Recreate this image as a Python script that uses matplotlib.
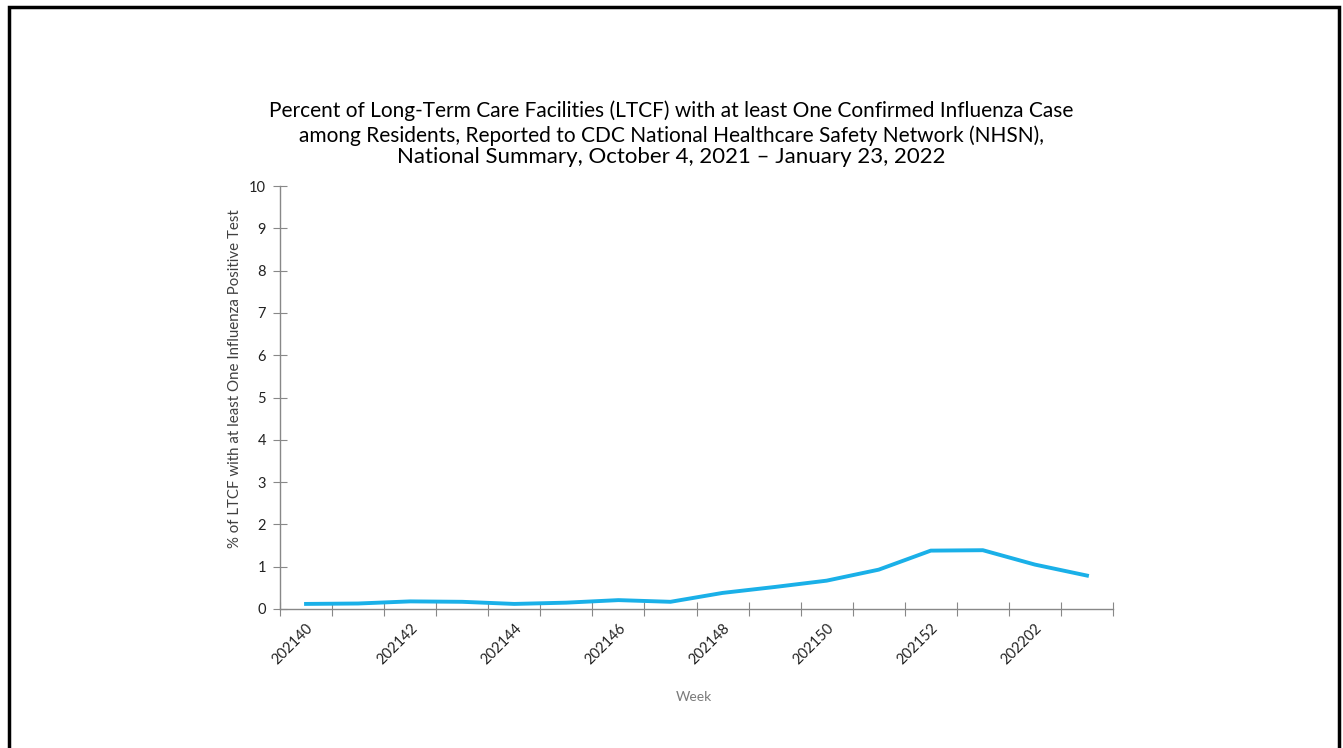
import matplotlib
matplotlib.use("Agg")
import matplotlib.pyplot as plt
from matplotlib.patches import Rectangle
from matplotlib.transforms import Bbox
import numpy as np

plt.rcParams['font.family'] = ['Lato', 'DejaVu Sans']

# weeks (YYYYWW) and percent of LTCF with >=1 positive influenza test
weeks = ['202140', '202141', '202142', '202143', '202144', '202145', '202146', '202147',
         '202148', '202149', '202150', '202151', '202152', '202201', '202202', '202203']
pct = [0.12, 0.13, 0.18, 0.17, 0.12, 0.15, 0.21, 0.17,
       0.38, 0.52, 0.67, 0.93, 1.38, 1.39, 1.05, 0.79]
shown_labels = ['202140', '202142', '202144', '202146', '202148', '202150', '202152', '202202']

title_lines = ["Percent of Long-Term Care Facilities (LTCF) with at least One Confirmed Influenza Case",
               "among Residents, Reported to CDC National Healthcare Safety Network (NHSN),",
               "National Summary, October 4, 2021 \u2013 January 23, 2022"]

W, H = 1343, 748
fig = plt.figure(figsize=(W / 100, H / 100), dpi=100)
ax = fig.add_axes([280 / W, 1 - 609 / H, (1113 - 280) / W, (609 - 186) / H])

x = np.arange(len(weeks))
ax.plot(x, pct, color='#1AB0E8', lw=2.8, solid_joinstyle='round')

ax.set_xlim(-0.5, len(weeks) - 0.5)
ax.set_ylim(0, 10)
ax.set_yticks(range(0, 11))

# category ticks sit between the points, labels on every other week
ax.set_xticks(np.arange(-0.5, len(weeks)))
ax.set_xticklabels([])
lab_pos = [weeks.index(w) for w in shown_labels]
ax.set_xticks(lab_pos, minor=True)
ax.set_xticklabels(shown_labels, minor=True, rotation=45, ha='right', va='top',
                   rotation_mode='anchor', fontsize=10.5, color='#222222')
ax.tick_params(axis='x', which='minor', length=0, pad=9)
ax.tick_params(axis='x', which='major', direction='inout', length=10, color='#888888')
ax.tick_params(axis='y', direction='inout', length=10, color='#888888', labelsize=10.5,
               labelcolor='#222222', pad=5)

for s in ['top', 'right']:
    ax.spines[s].set_visible(False)
for s in ['left', 'bottom']:
    ax.spines[s].set_color('#888888')
    ax.spines[s].set_linewidth(1)

ax.set_ylabel('% of LTCF with at least One Influenza Positive Test', fontsize=10.8,
              color='#404040')
ax.yaxis.set_label_coords((242 - 280) / 833, (609 - 379) / 423)
ax.set_xlabel('Week', fontsize=10, color='#7a7a7a', va='center')
ax.xaxis.set_label_coords((694 - 280) / 833, -(697 - 609) / 423)

fig.text(0.5, 1 - 117 / H, title_lines[0], ha='center', va='baseline', fontsize=15)
fig.text(0.5, 1 - 142 / H, title_lines[1], ha='center', va='baseline', fontsize=15)
t3 = fig.text(0.5, 1 - 163 / H, title_lines[2], ha='center', va='baseline', fontsize=16)
# the last title line is cut by the plot area in the original
t3.set_clip_box(Bbox.from_extents(0, H - 170, W, H))

fig.patches.append(Rectangle((8.5 / W, -0.05), (1339 - 8.5) / W, 1.05 - 7 / H,
                             transform=fig.transFigure, fill=False, lw=2.5,
                             edgecolor='black'))

fig.savefig('out.png', dpi=100)
